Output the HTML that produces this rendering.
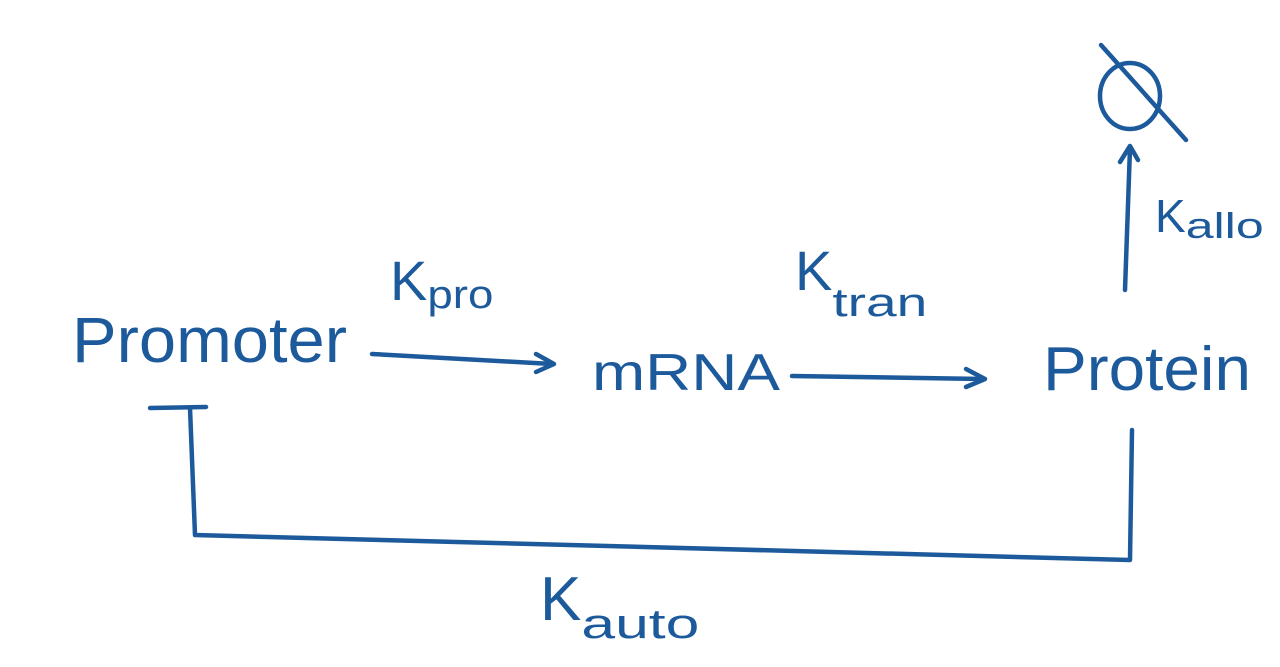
<!DOCTYPE html>
<html><head><meta charset="utf-8"><style>
html,body{margin:0;padding:0;background:#fff;}
svg{display:block;}
text{font-family:"Liberation Sans",sans-serif;fill:#1d5a9c;}
</style></head><body>
<svg width="1280" height="667" viewBox="0 0 1280 667">
<g stroke="#1d5a9c" stroke-width="4.5" fill="none" stroke-linecap="round" stroke-linejoin="round">
  <g>
    <path d="M372 354 L552 364"/><path d="M536 354 L554 364 L536 372"/>
  </g>
  <g>
    <path d="M792 376 L983 379"/><path d="M966 369 L985 379 L966 387"/>
  </g>
  <g>
    <path d="M1125 290 L1130 148"/><path d="M1120 162 L1130 146 L1138 160"/>
  </g>
  <g>
    <ellipse cx="1130" cy="96" rx="30" ry="33"/><path d="M1101 45 L1186 140"/>
  </g>
  <g>
    <path d="M1132 430 L1130 560 L195 535 L190 408"/><path d="M150 408 L206 407"/>
  </g>
</g>
<text x="72" y="362" font-size="64" textLength="275" lengthAdjust="spacingAndGlyphs">Promoter</text>
<text x="592" y="390" font-size="52" textLength="188" lengthAdjust="spacingAndGlyphs">mRNA</text>
<text x="1043" y="390" font-size="62" textLength="208" lengthAdjust="spacingAndGlyphs">Protein</text>
<text x="390" y="300" font-size="56">K<tspan font-size="40" dy="8" textLength="66" lengthAdjust="spacingAndGlyphs">pro</tspan></text>
<text x="795" y="290" font-size="56">K<tspan font-size="40" dy="26" textLength="95" lengthAdjust="spacingAndGlyphs">tran</tspan></text>
<text x="1155" y="232" font-size="46">K<tspan font-size="36" dy="6" textLength="78" lengthAdjust="spacingAndGlyphs">allo</tspan></text>
<text x="540" y="620" font-size="62">K<tspan font-size="42" dy="18" textLength="118" lengthAdjust="spacingAndGlyphs">auto</tspan></text>
</svg>
</body></html>
